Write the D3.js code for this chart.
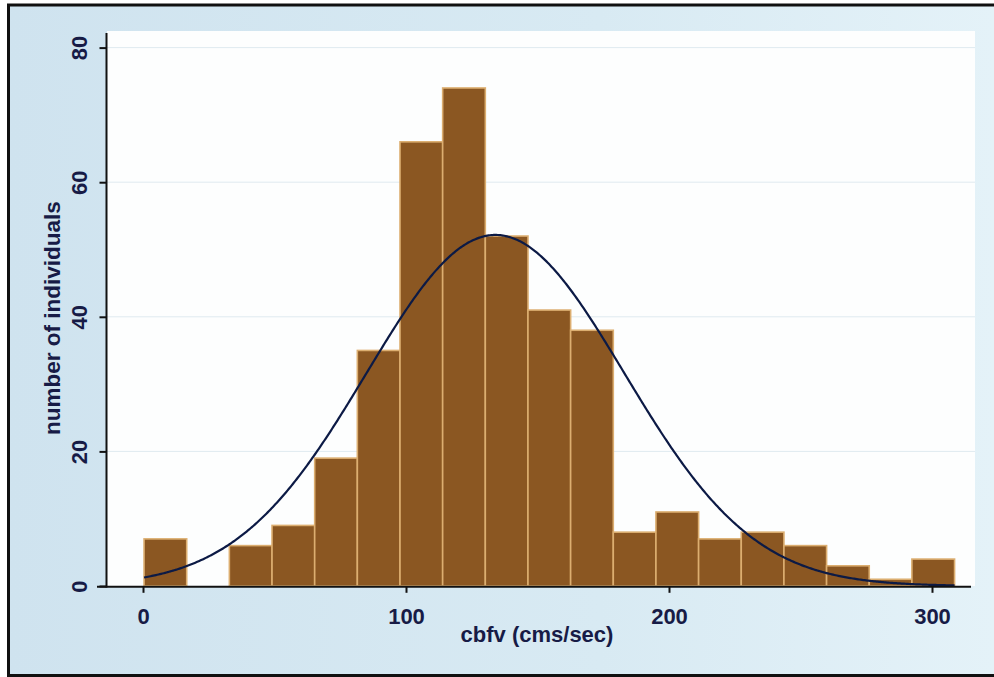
<!DOCTYPE html>
<html>
<head>
<meta charset="utf-8">
<script src="https://cdn.jsdelivr.net/npm/d3@7"></script>
<style>
  html, body { margin: 0; padding: 0; background: #ffffff; }
  svg { display: block; }
</style>
</head>
<body>
<svg id="chart" width="994" height="677"></svg>
<script>
// Histogram bins: first bin edge and width (cms/sec), and count per bin
const binStart = 0.4;
const binWidth = 16.22;
const counts = [7, 0, 6, 9, 19, 35, 66, 74, 52, 41, 38, 8, 11, 7, 8, 6, 3, 1, 4];

// Axis ticks
const xTicks = [0, 100, 200, 300];
const yTicks = [0, 20, 40, 60, 80];

// Fitted normal density overlaid on the frequencies
const fitMean = 134;
const fitSd = 49;

const xTitle = "cbfv (cms/sec)";
const yTitle = "number of individuals";

const svg = d3.select("#chart");
const W = 994, H = 677;
const font = "'Liberation Sans', Arial, Helvetica, sans-serif";
const textColor = "#171b46";

// Plot geometry
const plot = { left: 107, right: 975, top: 31, bottom: 586 };
const x = d3.scaleLinear().domain([0, 300]).range([143, 932]);
const y = d3.scaleLinear().domain([0, 80]).range([586, 47.6]);

// Graph region background and frame
const defs = svg.append("defs");
const grad = defs.append("linearGradient").attr("id", "bg").attr("x1", 0).attr("x2", 1).attr("y1", 0).attr("y2", 0);
grad.append("stop").attr("offset", "0%").attr("stop-color", "#cfe3ef");
grad.append("stop").attr("offset", "60%").attr("stop-color", "#d8eaf3");
grad.append("stop").attr("offset", "100%").attr("stop-color", "#e4f2f8");

svg.append("rect").attr("x", 8).attr("y", 5).attr("width", W - 8).attr("height", 670).attr("fill", "url(#bg)");
svg.append("path")
  .attr("d", `M${W},5 H8.5 V675.5 H${W}`)
  .attr("fill", "none").attr("stroke", "#101010").attr("stroke-width", 3);

// Plot region
svg.append("rect")
  .attr("x", plot.left).attr("y", plot.top)
  .attr("width", plot.right - plot.left).attr("height", plot.bottom - plot.top)
  .attr("fill", "#fdfefe");

// Horizontal grid lines
svg.append("g").selectAll("line")
  .data(yTicks.filter(d => d > 0))
  .join("line")
  .attr("x1", plot.left).attr("x2", plot.right)
  .attr("y1", d => y(d)).attr("y2", d => y(d))
  .attr("stroke", "#dfeaf0").attr("stroke-width", 1);

// Bars
const bins = counts.map((c, i) => ({
  x0: binStart + i * binWidth,
  x1: binStart + (i + 1) * binWidth,
  count: c
}));

svg.append("g").selectAll("rect")
  .data(bins.filter(b => b.count > 0))
  .join("rect")
  .attr("x", d => x(d.x0))
  .attr("width", d => x(d.x1) - x(d.x0))
  .attr("y", d => y(d.count))
  .attr("height", d => y(0) - y(d.count))
  .attr("fill", "#8b5722")
  .attr("stroke", "#dcae70")
  .attr("stroke-width", 1.6);

// Normal curve scaled to frequencies
const nObs = d3.sum(counts);
const scaleF = nObs * binWidth / (fitSd * Math.sqrt(2 * Math.PI));
const lo = binStart, hi = binStart + counts.length * binWidth;
const curvePts = d3.range(lo, hi, 0.5).concat([hi]).map(v => {
  const z = (v - fitMean) / fitSd;
  return [v, scaleF * Math.exp(-0.5 * z * z)];
});
svg.append("path")
  .datum(curvePts)
  .attr("d", d3.line().x(d => x(d[0])).y(d => y(d[1])))
  .attr("fill", "none")
  .attr("stroke", "#0c1a45")
  .attr("stroke-width", 2.2);

// Axis lines
svg.append("line").attr("x1", plot.left - 0.5).attr("x2", plot.left - 0.5)
  .attr("y1", 33).attr("y2", 587.5).attr("stroke", "#111").attr("stroke-width", 2);
svg.append("line").attr("x1", 97).attr("x2", 971)
  .attr("y1", 586.8).attr("y2", 586.8).attr("stroke", "#111").attr("stroke-width", 2);

// Y axis
const yAxis = svg.append("g")
  .attr("transform", `translate(${plot.left - 0.5},0)`)
  .call(d3.axisLeft(y).tickValues(yTicks).tickSize(7).tickSizeOuter(0).tickFormat(d3.format("d")));
yAxis.select(".domain").remove();
yAxis.selectAll(".tick line").attr("stroke", "#111").attr("stroke-width", 2);
yAxis.selectAll(".tick text")
  .attr("transform", "rotate(-90)")
  .attr("x", 0).attr("y", -19.5).attr("dy", 0)
  .attr("text-anchor", "middle")
  .attr("fill", textColor)
  .style("font-family", font).style("font-weight", "bold").style("font-size", "22px");

// X axis
const xAxis = svg.append("g")
  .attr("transform", "translate(0,586.8)")
  .call(d3.axisBottom(x).tickValues(xTicks).tickSize(6).tickSizeOuter(0).tickFormat(d3.format("d")));
xAxis.select(".domain").remove();
xAxis.selectAll(".tick line").attr("stroke", "#111").attr("stroke-width", 2);
xAxis.selectAll(".tick text")
  .attr("y", 36.8).attr("dy", 0)
  .attr("fill", textColor)
  .style("font-family", font).style("font-weight", "bold").style("font-size", "22px");

// Axis titles
svg.append("text")
  .attr("x", 537).attr("y", 642)
  .attr("text-anchor", "middle")
  .attr("fill", textColor)
  .style("font-family", font).style("font-weight", "bold").style("font-size", "22px")
  .text(xTitle);

svg.append("text")
  .attr("transform", "translate(60,318) rotate(-90)")
  .attr("text-anchor", "middle")
  .attr("fill", textColor)
  .style("font-family", font).style("font-weight", "bold").style("font-size", "22.5px")
  .text(yTitle);
</script>
</body>
</html>
